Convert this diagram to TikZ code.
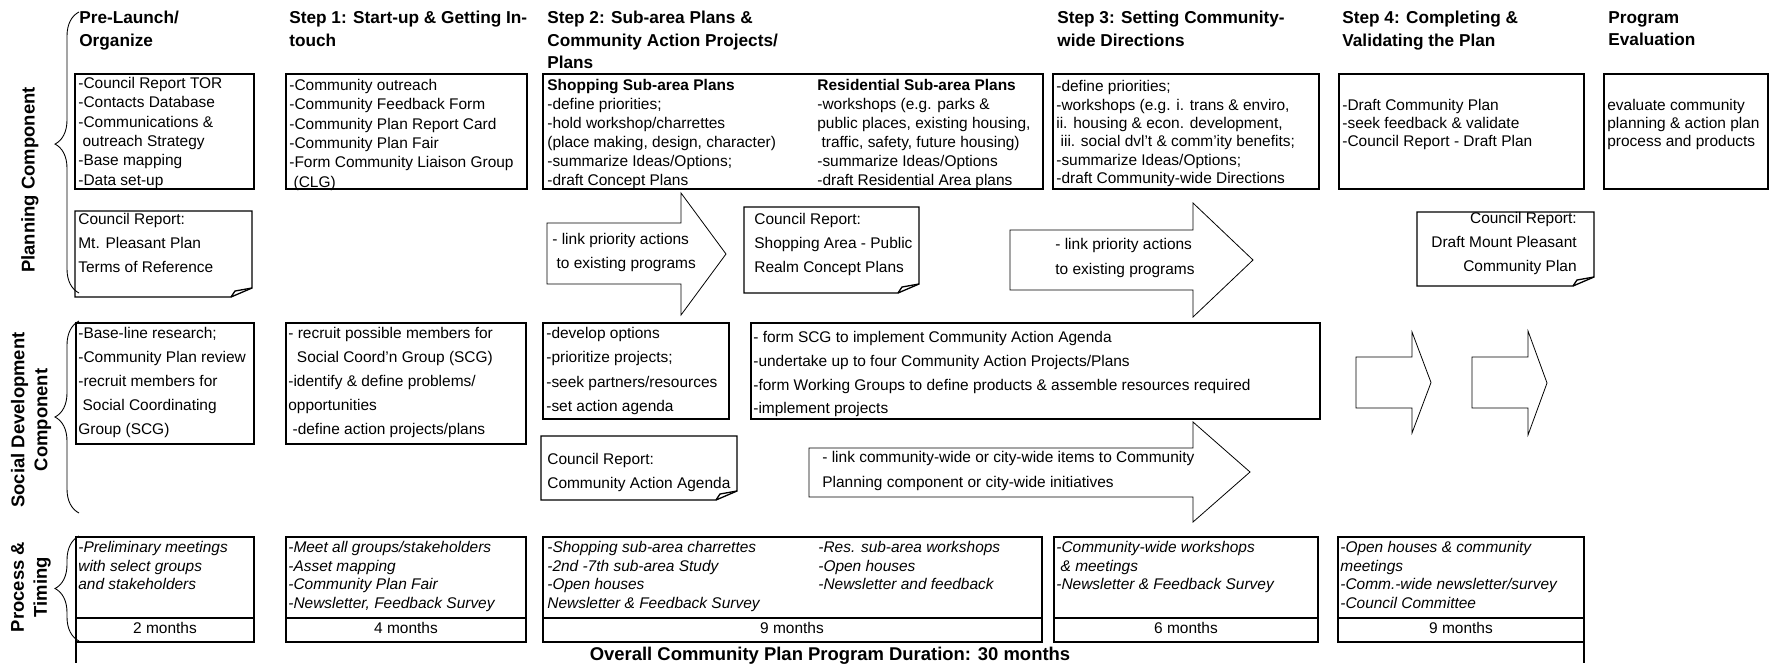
\documentclass[tikz,border=0pt]{standalone}
\usepackage{fontspec}
\setmainfont{Liberation Sans}
\usetikzlibrary{decorations.pathreplacing}

% folded report sheet: left, top, right, bottom
\newcommand\reportsheet[4]{%
	\draw[sheet] (#1,#2) -- (#3,#2) -- (#3,#4-9) -- (#3-21,#4) -- (#1,#4) -- cycle;
	\draw[sheet] (#3,#4-9) -- (#3-17,#4-6) -- (#3-21,#4);
}
% block arrow: shaft left, shaft top, shaft bottom, head base, head top, head bottom, tip
\newcommand\blockarrow[7]{%
	\draw[fatarrow] (#1,#2) -- (#4,#2) -- (#4,#5) -- (#7,{(#5+#6)/2}) -- (#4,#6) -- (#4,#3) -- (#1,#3) -- cycle;
}

\tikzset{
	cellbox/.style={line width=1pt},
	sheet/.style={line width=0.75pt},
	fatarrow/.style={line width=0.45pt},
	curly/.style={
		decorate,
		decoration={brace, amplitude=0.48cm, aspect=#1},
		line width=0.5pt
	},
	curly/.default=0.5,
	txt/.style={
		anchor=north west,
		inner sep=0pt,
		align=left,
		font=\fontsize{8.8}{#1}\selectfont
	},
	txt/.default=11,
	itxt/.style={txt, font=\itshape\fontsize{8.8}{10.6}\selectfont},
	heading/.style={
		anchor=north west,
		inner sep=0pt,
		align=left,
		font=\bfseries\fontsize{9.8}{12.8}\selectfont
	},
	side/.style={
		rotate=90,
		inner sep=0pt,
		align=center,
		font=\bfseries\fontsize{10.5}{13.1}\selectfont
	},
	months/.style={anchor=base, inner sep=0pt, font=\fontsize{8.8}{10}\selectfont},
	overall/.style={anchor=base, inner sep=0pt, font=\bfseries\fontsize{10.5}{12}\selectfont}
}

\begin{document}
\begin{tikzpicture}[x=0.02cm, y=-0.02cm]
	\useasboundingbox (0,0) rectangle (1773,663);

	% row labels
	\node[side] (lplan) at (30,180) {Planning Component};
	\node[side] (lsocial) at (31,420) {Social Development\\Component};
	\node[side] (ltiming) at (31,587) {Process \&\\Timing};
	\draw[curly=0.53] (79,293) -- (79,12);
	\draw[curly] (79,513) -- (79,321);
	\draw[curly] (79,641) -- (79,536);

	% step headings
	\node[heading] (h0) at (79,11) {Pre-Launch/\\Organize};
	\node[heading] (h1) at (289,11) {Step 1: Start-up \& Getting In-\\touch};
	\node[heading] (h2) at (547,11) {Step 2: Sub-area Plans \&\\Community Action Projects/\\Plans};
	\node[heading] (h3) at (1057,11) {Step 3: Setting Community-\\wide Directions};
	\node[heading] (h4) at (1342,11) {Step 4: Completing \&\\Validating the Plan};
	\node[heading] (h5) at (1608,11) {Program\\Evaluation};

	% planning component
	\draw[cellbox] (75,74) rectangle (254,189);
	\node[txt] (p0) at (78,77) {-Council Report TOR\\-Contacts Database\\-Communications \&\\\ outreach Strategy\\-Base mapping\\-Data set-up};
	\draw[cellbox] (286,74) rectangle (527,189);
	\node[txt] (p1) at (289,79) {-Community outreach\\-Community Feedback Form\\-Community Plan Report Card\\-Community Plan Fair\\-Form Community Liaison Group\\\ (CLG)};
	\draw[cellbox] (543,74) rectangle (1043,189);
	\node[txt=10.8] (p2a) at (547,79) {\textbf{Shopping Sub-area Plans}\\-define priorities;\\-hold workshop/charrettes\\(place making, design, character)\\-summarize Ideas/Options;\\-draft Concept Plans};
	\node[txt=10.8] (p2b) at (817,79) {\textbf{Residential Sub-area Plans}\\-workshops (e.g. parks \&\\public places, existing housing,\\\ traffic, safety, future housing)\\-summarize Ideas/Options\\-draft Residential Area plans};
	\draw[cellbox] (1053,74) rectangle (1319,189);
	\node[txt=10.5] (p3) at (1056,80) {-define priorities;\\-workshops (e.g. i. trans \& enviro,\\ii. housing \& econ. development,\\\ iii. social dvl't \& comm'ity benefits;\\-summarize Ideas/Options;\\-draft Community-wide Directions};
	\draw[cellbox] (1339,74) rectangle (1584,189);
	\node[txt=10.25] (p4) at (1342,99) {-Draft Community Plan\\-seek feedback \& validate\\-Council Report - Draft Plan};
	\draw[cellbox] (1604,74) rectangle (1768,189);
	\node[txt=10.25] (p5) at (1607,99) {evaluate community\\planning \& action plan\\process and products};

	\reportsheet{75}{211}{252}{297}
	\node[txt=13.66] (r0) at (78,213) {Council Report:\\Mt. Pleasant Plan\\Terms of Reference};
	\blockarrow{547}{223}{284}{681}{193}{315}{726}
	\node[txt=13.66] (a1) at (552,233) {- link priority actions\\\ to existing programs};
	\reportsheet{744}{207}{919}{293}
	\node[txt=13.66] (r2) at (754,213) {Council Report:\\Shopping Area - Public\\Realm Concept Plans};
	\blockarrow{1010}{230}{290}{1193}{203}{317}{1253}
	\node[txt=14] (a3) at (1055,238) {- link priority actions\\to existing programs};
	\reportsheet{1417}{212}{1594}{286}
	\node[txt=13.66, anchor=north east, align=right] (r4) at (1577,212) {Council Report:\\Draft Mount Pleasant\\Community Plan};

	% social development component
	\draw[cellbox] (76,323) rectangle (254,444);
	\node[txt=13.66] (s0) at (78,327) {-Base-line research;\\-Community Plan review\\-recruit members for\\\ Social Coordinating\\Group (SCG)};
	\draw[cellbox] (286,323) rectangle (526,444);
	\node[txt=13.66] (s1) at (288,327) {- recruit possible members for\\\ \ Social Coord'n Group (SCG)\\-identify \& define problems/\\opportunities\\\ -define action projects/plans};
	\draw[cellbox] (543,323) rectangle (729,419);
	\node[txt=13.8] (s2) at (546,327) {-develop options\\-prioritize projects;\\-seek partners/resources\\-set action agenda};
	\draw[cellbox] (751,323) rectangle (1320,419);
	\node[txt=13.5] (s3) at (753,331) {- form SCG to implement Community Action Agenda\\-undertake up to four Community Action Projects/Plans\\-form Working Groups to define products \& assemble resources required\\-implement projects};

	\reportsheet{541}{436}{737}{500}
	\node[txt=13.66] (r5) at (547,453) {Council Report:\\Community Action Agenda};
	\blockarrow{809}{448}{497}{1193}{422}{522}{1250}
	\node[txt=14.2] (a5) at (822,451) {- link community-wide or city-wide items to Community\\Planning component or city-wide initiatives};
	\blockarrow{1356}{357}{408}{1412}{332}{433}{1431}
	\blockarrow{1472}{357}{408}{1528}{331}{435}{1547}

	% process & timing
	\draw[cellbox] (76,537) rectangle (254,642) (76,618) -- (254,618);
	\node[itxt] (t0) at (78,541) {-Preliminary meetings\\with select groups\\and stakeholders};
	\node[months] (m0) at (165,633) {2 months};
	\draw[cellbox] (286,537) rectangle (526,642) (286,618) -- (526,618);
	\node[itxt] (t1) at (288,541) {-Meet all groups/stakeholders\\-Asset mapping\\-Community Plan Fair\\-Newsletter, Feedback Survey};
	\node[months] (m1) at (406,633) {4 months};
	\draw[cellbox] (543,537) rectangle (1042,642) (543,618) -- (1042,618);
	\node[itxt] (t2a) at (547,541) {-Shopping sub-area charrettes\\-2nd -7th sub-area Study\\-Open houses\\Newsletter \& Feedback Survey};
	\node[itxt] (t2b) at (818,541) {-Res. sub-area workshops\\-Open houses\\-Newsletter and feedback};
	\node[months] (m2) at (792,633) {9 months};
	\draw[cellbox] (1054,537) rectangle (1318,642) (1054,618) -- (1318,618);
	\node[itxt] (t3) at (1056,541) {-Community-wide workshops\\\ \& meetings\\-Newsletter \& Feedback Survey};
	\node[months] (m3) at (1186,633) {6 months};
	\draw[cellbox] (1338,537) rectangle (1584,642) (1338,618) -- (1584,618);
	\node[itxt] (t4) at (1340,541) {-Open houses \& community\\meetings\\-Comm.-wide newsletter/survey\\-Council Committee};
	\node[months] (m4) at (1461,633) {9 months};

	\draw[cellbox] (76,642) -- (76,663) (1584,642) -- (1584,663);
	\node[overall] (total) at (830,660) {Overall Community Plan Program Duration: 30 months};
\end{tikzpicture}
\end{document}
